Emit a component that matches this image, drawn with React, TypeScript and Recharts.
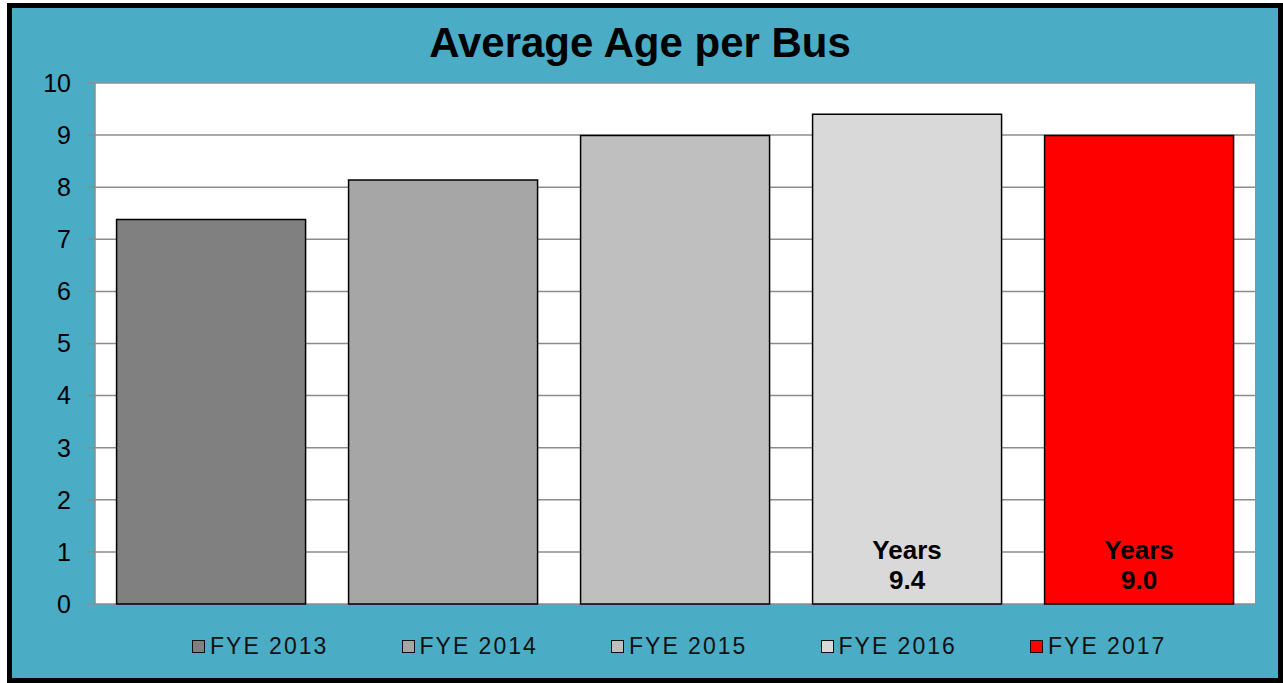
import { BarChart, Bar, Cell, XAxis, YAxis, CartesianGrid, Legend, LabelList } from 'recharts';

const categories = ['FYE 2013', 'FYE 2014', 'FYE 2015', 'FYE 2016', 'FYE 2017'];
const ages = [7.38, 8.14, 8.99, 9.4, 8.99];
const valueLabels = ['', '', '', '9.4', '9.0'];
const yTicks = [0, 1, 2, 3, 4, 5, 6, 7, 8, 9, 10];

const COLORS = ['#808080', '#a6a6a6', '#bfbfbf', '#d9d9d9', '#ff0000'];
const FONT = '"Liberation Sans", Arial, sans-serif';

const data = categories.map((name, i) => ({ name, value: ages[i], label: valueLabels[i] }));

const YearsLabel = (props: any) => {
  const { x, y, width, height, value } = props;
  if (!value) return null;
  const cx = x + width / 2;
  const bottom = y + height;
  return (
    <g fontFamily={FONT} fontWeight="bold" fontSize={26} fill="#000" textAnchor="middle">
      <text x={cx} y={bottom - 45}>Years</text>
      <text x={cx} y={bottom - 15}>{value}</text>
    </g>
  );
};

const renderLegend = () => (
  <div style={{ position: 'relative', height: 40 }}>
    {categories.map((c, i) => (
      <div
        key={c}
        style={{
          position: 'absolute',
          left: 192 + i * 209.5,
          top: 5,
          height: 26,
          lineHeight: '26px',
          display: 'flex',
          alignItems: 'center',
          fontFamily: FONT,
          fontSize: 23,
          letterSpacing: 2,
          color: '#111',
          whiteSpace: 'nowrap',
        }}
      >
        <span
          style={{
            display: 'inline-block',
            width: 11,
            height: 11,
            background: COLORS[i],
            border: '1.5px solid #111',
            marginRight: 5,
          }}
        />
        {c}
      </div>
    ))}
  </div>
);

export default function App() {
  return (
    <div style={{ position: 'relative', width: 1283, height: 683, overflow: 'hidden' }}>
      <style>{`body{margin:0}`}</style>
      <div
        style={{
          position: 'absolute',
          left: 7,
          top: 3,
          width: 1276,
          height: 680,
          boxSizing: 'border-box',
          border: '5px solid #000',
          background: '#4bacc6',
        }}
      />
      <div
        style={{
          position: 'absolute',
          left: 0,
          top: 22,
          width: 1280,
          textAlign: 'center',
          fontFamily: FONT,
          fontWeight: 'bold',
          fontSize: 42,
          lineHeight: 1,
          color: '#000',
        }}
      >
        Average Age per Bus
      </div>
      <div style={{ position: 'absolute', left: 0, top: 0 }}>
        <BarChart
          width={1283}
          height={683}
          data={data}
          margin={{ top: 83, right: 28, left: 35, bottom: 39 }}
          barCategoryGap="9.3%"
        >
          <CartesianGrid horizontal vertical={false} stroke="#8c8c8c" fill="#ffffff" strokeWidth={1.5} />
          <XAxis dataKey="name" hide />
          <YAxis
            width={60}
            domain={[0, 10]}
            ticks={yTicks}
            interval={0}
            stroke="#8c8c8c"
            strokeWidth={1.5}
            tickSize={8}
            tickMargin={16}
            tick={{ fill: '#000', fontSize: 25, fontFamily: FONT }}
          />
          <Legend verticalAlign="bottom" height={40} content={renderLegend} wrapperStyle={{ left: 0, bottom: 15 }} />
          <Bar dataKey="value" stroke="#000" strokeWidth={1.5} isAnimationActive={false}>
            {data.map((d, i) => (
              <Cell key={d.name} fill={COLORS[i]} />
            ))}
            <LabelList dataKey="label" content={YearsLabel} />
          </Bar>
        </BarChart>
      </div>
    </div>
  );
}
